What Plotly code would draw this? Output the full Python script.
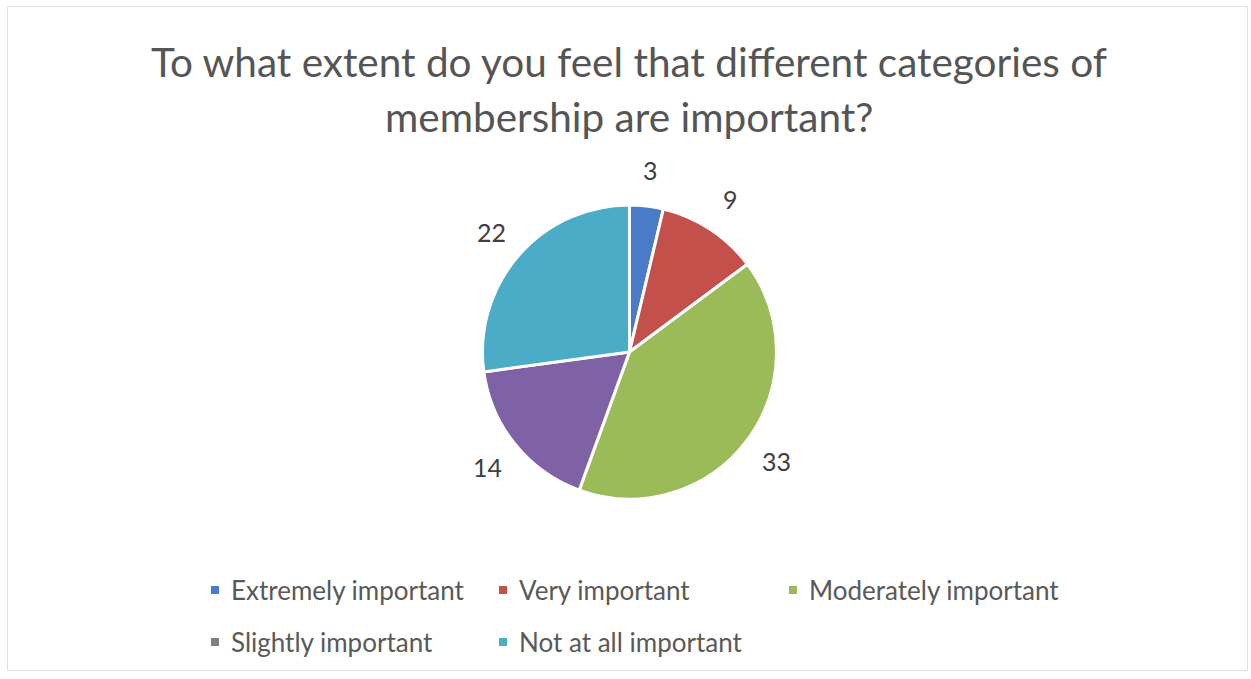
import math
import plotly.graph_objects as go

# Survey responses
categories = ["Extremely important", "Very important", "Moderately important",
              "Slightly important", "Not at all important"]
counts = [3, 9, 33, 14, 22]
title_lines = ["To what extent do you feel that different categories of",
               "membership are important?"]

slice_colors = ["#4A7BC8", "#C4504C", "#9BBB59", "#7F62A6", "#4AACC6"]
legend_colors = ["#4A7BC8", "#C4504C", "#9BBB59", "#7F7F7F", "#4AACC6"]

W, H = 1251, 679
FONT = "Lato"


def px(x):
    return x / W


def py(y):
    return 1 - y / H


# Pie geometry (pixels)
cx, cy, r = 629.5, 352.0, 147.0

fig = go.Figure()
fig.add_trace(go.Pie(
    labels=categories,
    values=counts,
    sort=False,
    direction="clockwise",
    rotation=0,
    marker=dict(colors=slice_colors, line=dict(color="white", width=3)),
    textinfo="none",
    hoverinfo="label+value",
    showlegend=False,
    domain=dict(x=[px(cx - r), px(cx + r)], y=[py(cy + r), py(cy - r)]),
))

annotations = []

# Value labels placed outside each slice along its mid-angle
total = sum(counts)
cum = 0
label_r = r + 36
for v in counts:
    mid = (cum + v / 2) / total * 2 * math.pi
    cum += v
    lx = cx + label_r * math.sin(mid)
    ly = cy - label_r * math.cos(mid)
    annotations.append(dict(
        x=px(lx), y=py(ly), xref="paper", yref="paper",
        text=str(v), showarrow=False, xanchor="center", yanchor="middle",
        font=dict(family=FONT, size=25, color="#404040"),
    ))

# Title
for i, line in enumerate(title_lines):
    annotations.append(dict(
        x=px(629), y=py(61 + 55 * i), xref="paper", yref="paper",
        text=line, showarrow=False, xanchor="center", yanchor="middle",
        font=dict(family=FONT, size=40.5, color="#555555"),
    ))

# Legend laid out in rows of three columns
col_x = [215, 503, 793]
row_y = [590, 642]
shapes = [dict(type="rect", xref="paper", yref="paper",
               x0=px(7.5), x1=px(1247.5), y0=py(670.5), y1=py(6.5),
               line=dict(color="#E0E0E0", width=1), fillcolor="rgba(0,0,0,0)")]
for i, (name, col) in enumerate(zip(categories, legend_colors)):
    mx = col_x[i % 3]
    my = row_y[i // 3]
    shapes.append(dict(type="rect", xref="paper", yref="paper",
                       x0=px(mx - 4), x1=px(mx + 4), y0=py(my + 4), y1=py(my - 4),
                       line=dict(width=0), fillcolor=col))
    annotations.append(dict(
        x=px(mx + 14), y=py(my), xref="paper", yref="paper",
        text=name, showarrow=False, xanchor="left", yanchor="middle",
        font=dict(family=FONT, size=26, color="#595959"),
    ))

fig.update_layout(
    width=W, height=H,
    margin=dict(l=0, r=0, t=0, b=0),
    paper_bgcolor="white", plot_bgcolor="white",
    annotations=annotations, shapes=shapes,
)

fig.write_html("out.html")
